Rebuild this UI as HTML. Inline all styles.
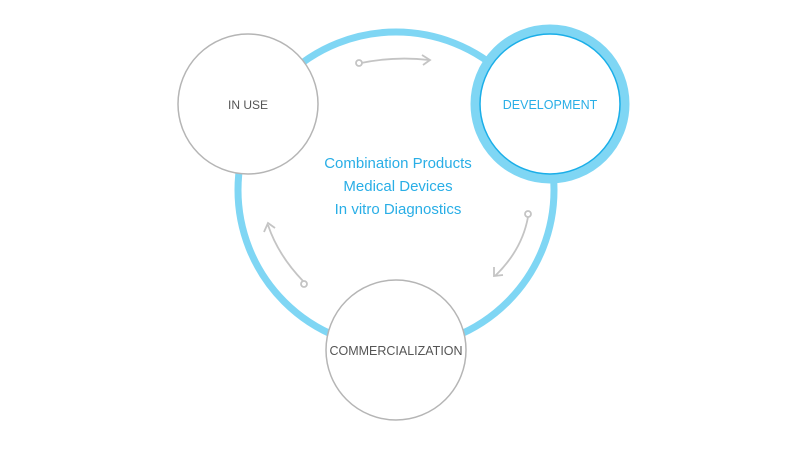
<!DOCTYPE html>
<html><head><style>
html,body{margin:0;padding:0;background:#fff;width:800px;height:450px;overflow:hidden}
svg text{font-family:"Liberation Sans",sans-serif}
</style></head><body>
<svg width="800" height="450" viewBox="0 0 800 450">
<circle cx="396" cy="190" r="158" fill="none" stroke="#7fd6f4" stroke-width="7"/>
<circle cx="248" cy="104" r="70" fill="#fff" stroke="#b5b5b5" stroke-width="1.5"/>
<circle cx="396" cy="350" r="70" fill="#fff" stroke="#b5b5b5" stroke-width="1.5"/>
<circle cx="550" cy="104" r="75" fill="#fff" stroke="#7fd6f4" stroke-width="9"/>
<circle cx="550" cy="104" r="70" fill="none" stroke="#1aaee8" stroke-width="1.5"/>
<g fill="none" stroke="#c4c4c4" stroke-width="1.8">
<path d="M361 63 Q395 56 429 60"/><path d="M422 55 L430 60 L423 65"/>
<circle cx="359" cy="63" r="3" fill="#fff"/>
<path d="M528 217 Q522 250 495 276"/><path d="M494 267 L494 276 L503 275"/>
<circle cx="528" cy="214" r="3" fill="#fff"/>
<path d="M303 281 Q278 255 268 225"/><path d="M264 232 L268 223 L275 228"/>
<circle cx="304" cy="284" r="3" fill="#fff"/>
</g>
<text x="248" y="109" text-anchor="middle" font-size="12" fill="#555">IN USE</text>
<text x="550" y="109" text-anchor="middle" font-size="12.5" fill="#29aee6">DEVELOPMENT</text>
<text x="396" y="355" text-anchor="middle" font-size="12.5" fill="#555">COMMERCIALIZATION</text>
<g font-size="15" fill="#29aee6" text-anchor="middle">
<text x="398" y="168">Combination Products</text>
<text x="398" y="191">Medical Devices</text>
<text x="398" y="214">In vitro Diagnostics</text>
</g>
</svg>
</body></html>
